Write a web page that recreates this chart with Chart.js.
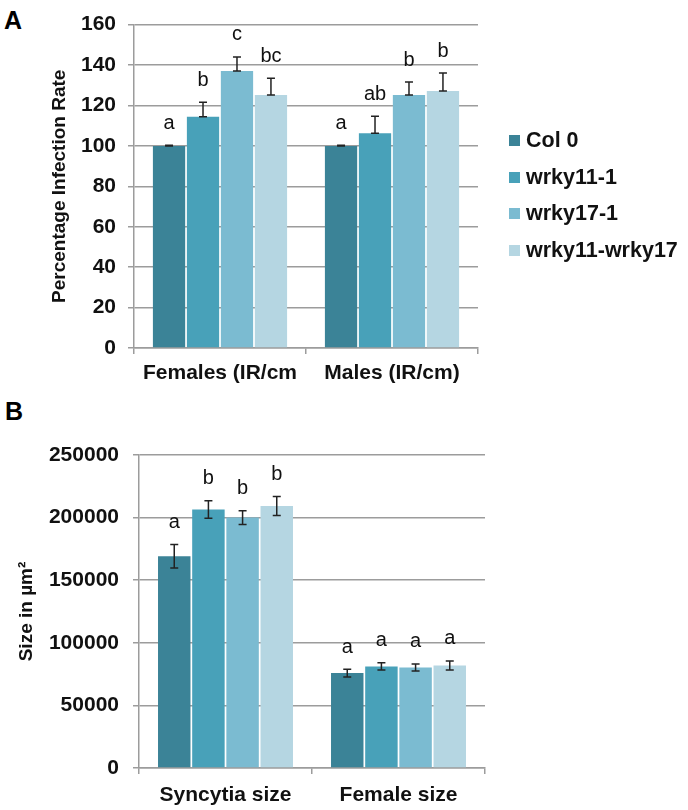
<!DOCTYPE html>
<html>
<head>
<meta charset="utf-8">
<script src="https://cdn.jsdelivr.net/npm/chart.js@4.4.1/dist/chart.umd.min.js"></script>
<style>
  body { margin: 0; background: #fff; font-family: 'Liberation Sans', Arial, sans-serif; }
  #wrap { position: relative; width: 688px; height: 810px; }
  .panel { position: absolute; left: 0; }
  .tag { position: absolute; font-weight: bold; font-size: 25px; line-height: 1; }
  #legend { position: absolute; left: 509px; top: 122px; }
  .item { display: flex; align-items: center; height: 36.7px; font-weight: bold; font-size: 21.5px; color: #111; }
  .sw { width: 11px; height: 11px; margin-right: 6px; }
</style>
</head>
<body>
<div id="wrap">
  <div class="tag" style="left:4px; top:8px;">A</div>
  <div class="tag" style="left:5px; top:399px;">B</div>
  <canvas id="chartA" class="panel" style="top:0" width="688" height="390"></canvas>
  <canvas id="chartB" class="panel" style="top:390px" width="688" height="420"></canvas>
  <div id="legend"></div>
</div>
<script>
// Genotypes y colores
const genotypes = ['Col 0', 'wrky11-1', 'wrky17-1', 'wrky11-wrky17'];
const colors = ['#3b8397', '#48a1b9', '#7bbbd1', '#b5d6e2'];

// Panel A - tasa de infección
const infectionCats = ['Females (IR/cm', 'Males (IR/cm)'];
const infCol0 = [100, 100];
const infW11 = [114.4, 106.2];
const infW17 = [137.1, 125.2];
const infW1117 = [125.2, 127.1];
const infErrCol0 = [0.3, 0.3];
const infErrW11 = [7.2, 8.4];
const infErrW17 = [6.9, 6.4];
const infErrW1117 = [8.3, 8.9];
const infLetCol0 = ['a', 'a'];
const infLetW11 = ['b', 'ab'];
const infLetW17 = ['c', 'b'];
const infLetW1117 = ['bc', 'b'];

// Panel B - tamaño
const sizeCats = ['Syncytia size', 'Female size'];
const sizeCol0 = [169200, 75800];
const sizeW11 = [206400, 81100];
const sizeW17 = [200000, 80300];
const sizeW1117 = [209300, 81900];
const sizeErrCol0 = [9400, 3100];
const sizeErrW11 = [7000, 2900];
const sizeErrW17 = [5500, 2800];
const sizeErrW1117 = [7600, 3600];
const sizeLetCol0 = ['a', 'a'];
const sizeLetW11 = ['b', 'a'];
const sizeLetW17 = ['b', 'a'];
const sizeLetW1117 = ['b', 'a'];

const FONT = "'Liberation Sans', Arial, sans-serif";
const GRID = '#9c9c9c';
Chart.defaults.font.family = FONT;
Chart.defaults.color = '#111';

// Barras de error y letras
const annotate = {
    id: 'annotate',
    afterDatasetsDraw(chart, args, opts) {
        const ctx = chart.ctx;
        const y = chart.scales.y;
        chart.data.datasets.forEach((ds, di) => {
            const meta = chart.getDatasetMeta(di);
            meta.data.forEach((bar, i) => {
                const v = ds.data[i], e = ds.errors[i];
                const yTop = y.getPixelForValue(v + e);
                const yBot = y.getPixelForValue(opts.plusOnly ? v : v - e);
                ctx.save();
                ctx.strokeStyle = '#222';
                ctx.lineWidth = 1.5;
                ctx.beginPath();
                ctx.moveTo(bar.x, yTop); ctx.lineTo(bar.x, yBot);
                ctx.moveTo(bar.x - 4, yTop); ctx.lineTo(bar.x + 4, yTop);
                ctx.moveTo(bar.x - 4, yBot); ctx.lineTo(bar.x + 4, yBot);
                ctx.stroke();
                ctx.fillStyle = '#111';
                ctx.font = '20px ' + FONT;
                ctx.textAlign = 'center';
                ctx.textBaseline = 'middle';
                ctx.fillText(ds.letters[i], bar.x, yTop - opts.gap);
                ctx.restore();
            });
        });
    }
};

function makeDatasets(values, errors, letters) {
    return genotypes.map((g, i) => ({
        label: g,
        data: values[i],
        errors: errors[i],
        letters: letters[i],
        backgroundColor: colors[i],
        barPercentage: 0.95,
        categoryPercentage: 0.79
    }));
}

function makeChart(id, cats, datasets, yMax, step, yTitle, cfg) {
    return new Chart(document.getElementById(id), {
        type: 'bar',
        data: { labels: cats, datasets: datasets },
        plugins: [annotate],
        options: {
            responsive: false,
            animation: false,
            layout: { padding: { top: cfg.top, right: cfg.right, left: 0, bottom: 0 } },
            plugins: {
                legend: { display: false },
                tooltip: { enabled: false },
                annotate: { plusOnly: cfg.plusOnly, gap: 22 }
            },
            scales: {
                x: {
                    grid: { drawOnChartArea: false, color: GRID, lineWidth: 1.5, tickLength: 6 },
                    border: { color: GRID, width: 1.5 },
                    ticks: { font: { size: 21, weight: 'bold' }, padding: cfg.xPad, color: '#111' },
                    afterFit: s => { s.height = cfg.xHeight; }
                },
                y: {
                    min: 0, max: yMax,
                    grid: { color: GRID, lineWidth: 1.5, tickLength: 6 },
                    border: { color: GRID, width: 1.5 },
                    ticks: {
                        stepSize: step,
                        callback: v => String(v),
                        font: { size: 21, weight: 'bold' }, padding: cfg.yPad, color: '#111'
                    },
                    title: { display: true, text: yTitle, font: { size: 19, weight: 'bold' }, padding: { top: cfg.titlePad, bottom: 0 }, color: '#111' },
                    afterFit: s => { s.width = cfg.left; }
                }
            }
        }
    });
}

makeChart('chartA', infectionCats,
    makeDatasets([infCol0, infW11, infW17, infW1117],
                 [infErrCol0, infErrW11, infErrW17, infErrW1117],
                 [infLetCol0, infLetW11, infLetW17, infLetW1117]),
    160, 20, 'Percentage Infection Rate',
    { top: 12, right: 210, left: 134, xHeight: 42, xPad: 7, yPad: 12, titlePad: 48, plusOnly: true });

makeChart('chartB', sizeCats,
    makeDatasets([sizeCol0, sizeW11, sizeW17, sizeW1117],
                 [sizeErrCol0, sizeErrW11, sizeErrW17, sizeErrW1117],
                 [sizeLetCol0, sizeLetW11, sizeLetW17, sizeLetW1117]),
    250000, 50000, 'Size in µm²',
    { top: 65, right: 203, left: 139, xHeight: 42, xPad: 9, yPad: 14, titlePad: 15, plusOnly: false });

// Leyenda
const legend = document.getElementById('legend');
genotypes.forEach((g, i) => {
    const item = document.createElement('div');
    item.className = 'item';
    item.innerHTML = '<span class="sw" style="background:' + colors[i] + '"></span>' + g;
    legend.appendChild(item);
});
</script>
</body>
</html>
